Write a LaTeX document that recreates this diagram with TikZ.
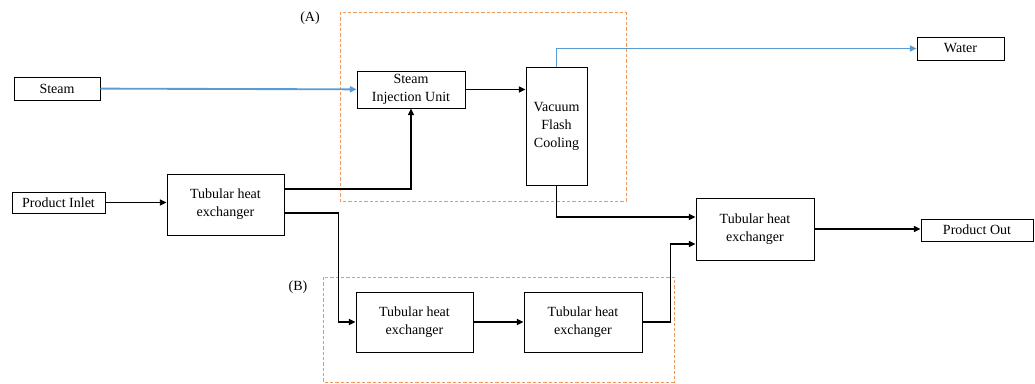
\documentclass[tikz,border=0pt]{standalone}
\usepackage{fontspec}
\setmainfont{Liberation Serif}
\usepackage{tikz}
\usetikzlibrary{arrows.meta}

\definecolor{steamblue}{RGB}{91,155,213}
\definecolor{zoneorange}{RGB}{240,150,90}

\tikzset{
	unit/.style={draw, line width=0.6pt, align=center, inner sep=0pt,
		font=\fontsize{10.5}{13.5}\selectfont},
	flow/.style={line width=1.15pt, -{Triangle[length=5pt,width=4.5pt]}},
	vapour/.style={steamblue, line width=1.4pt, -{Triangle[length=5pt,width=4.5pt]}},
	zone/.style={zoneorange, line width=0.6pt, dash pattern=on 2.5pt off 1.5pt},
	zonelabel/.style={font=\fontsize{10.5}{13.5}\selectfont}
}

\begin{document}
\begin{tikzpicture}[x=0.75pt, y=-0.75pt]
	\useasboundingbox (0,0) rectangle (1035,383);

	% dashed zones
	\draw[zone] (340,12) rectangle (626,201);
	\draw[zone] (323,277) rectangle (674,382);
	\node[zonelabel] (labA) at (310,18) {(A)};
	\node[zonelabel] (labB) at (298,287) {(B)};

	% units
	\node[unit, minimum width=64.5pt, minimum height=17.25pt] (steam) at (57,88.5) {Steam};
	\node[unit, minimum width=81pt, minimum height=27.75pt] (siu) at (411,89.5) {Steam\\Injection Unit};
	\node[unit, minimum width=45.75pt, minimum height=88.5pt] (vfc) at (556.5,126) {Vacuum\\Flash\\Cooling};
	\node[unit, minimum width=65.25pt, minimum height=17.25pt] (water) at (960.5,48.5) {Water};
	\node[unit, minimum width=69.75pt, minimum height=15.75pt] (inlet) at (58.5,202.5) {Product Inlet};
	\node[unit, minimum width=87.75pt, minimum height=45.75pt] (hx1) at (225.5,204.5) {Tubular heat\\exchanger};
	\node[unit, minimum width=87.75pt, minimum height=45pt] (hxB1) at (414.5,322) {Tubular heat\\exchanger};
	\node[unit, minimum width=88.5pt, minimum height=45pt] (hxB2) at (583,322) {Tubular heat\\exchanger};
	\node[unit, minimum width=88.5pt, minimum height=46.5pt] (hxC) at (755,229) {Tubular heat\\exchanger};
	\node[unit, minimum width=84pt, minimum height=16.5pt] (out) at (977,230) {Product Out};

	% steam side
	\draw[vapour] (steam) -- (siu);
	\draw[vapour] (vfc.north) |- (water.west);

	% product side
	\draw[flow] (inlet.east) -- (inlet.east -| hx1.west);
	\draw[flow] ([yshift=11.6pt]hx1.east) -| (siu.south);
	\draw[flow] (siu.east) -- (siu.east -| vfc.west);
	\draw[flow] ([yshift=-6.4pt]hx1.east) -| ([xshift=-12.75pt]hxB1.west) -- (hxB1.west);
	\draw[flow] (hxB1) -- (hxB2);
	\draw[flow] (vfc.south) |- ([yshift=9pt]hxC.west);
	\draw[flow] (hxB2.east) -| ([xshift=-18.75pt,yshift=-11.25pt]hxC.west) -- ([yshift=-11.25pt]hxC.west);
	\draw[flow] (hxC.east) -- (hxC.east -| out.west);
\end{tikzpicture}
\end{document}
